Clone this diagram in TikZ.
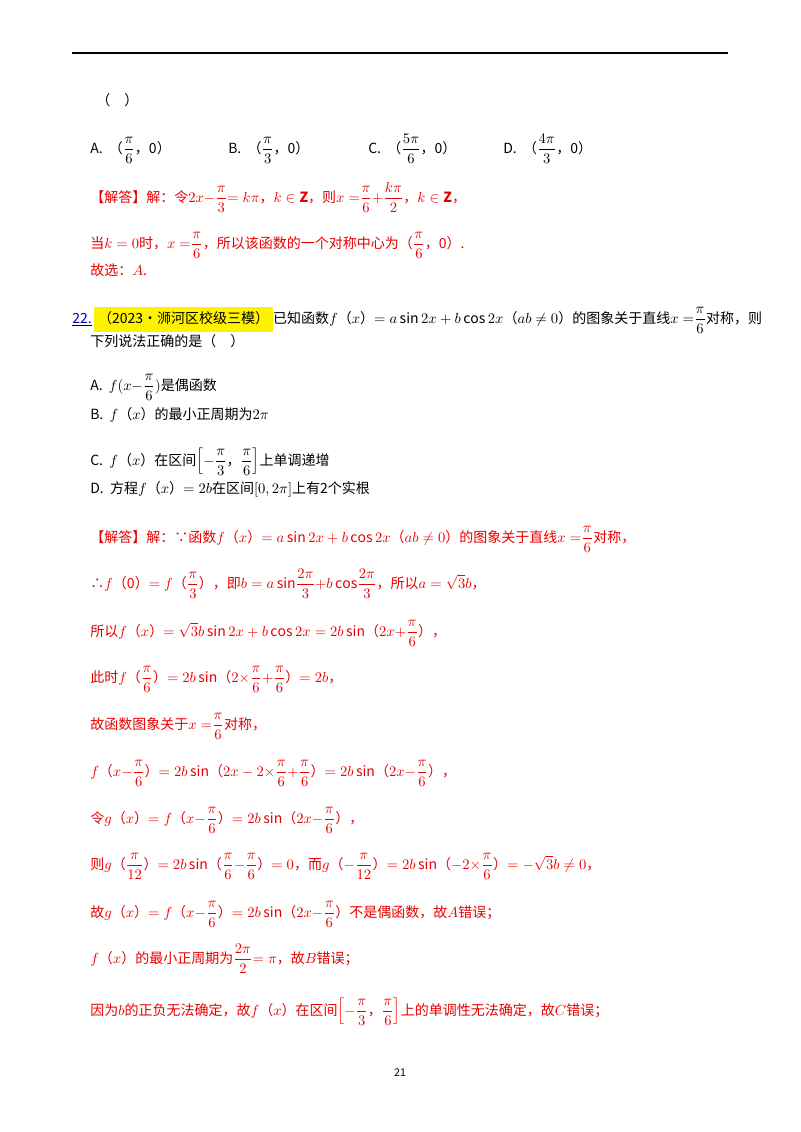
\documentclass[tikz,border=0pt]{standalone}
\usepackage{amsmath}
\usepackage{fontspec}
\setmainfont{Noto Sans CJK SC}
\newcommand\F[2]{$\dfrac{#1}{#2}$}
\definecolor{ansred}{RGB}{232,0,0}
\definecolor{qblue}{RGB}{0,0,200}
\begin{document}
\begin{tikzpicture}[x=0.75pt,y=-0.75pt,
  txt/.style={anchor=base west,inner sep=0pt,font=\fontsize{10.5}{12}\selectfont},
  ans/.style={txt,text=ansred}]
\useasboundingbox (0,0) rectangle (800,1132);
\draw[line width=1pt] (72,53) -- (728,53);
\node[txt] (l0) at (96,105) {（\quad）};
\node[txt] (oa) at (90,153) {A.\ \ （\F{\pi}{6}，0）};
\node[txt] (ob) at (228,153) {B.\ \ （\F{\pi}{3}，0）};
\node[txt] (oc) at (368,153) {C.\ \ （\F{5\pi}{6}，0）};
\node[txt] (od) at (503,153) {D.\ \ （\F{4\pi}{3}，0）};
\node[ans] (a1) at (90,202) {【解答】解：令$2x-$\F{\pi}{3}$=k\pi$，$k\in\mathbf{Z}$，则$x=$\F{\pi}{6}$+$\F{k\pi}{2}，$k\in\mathbf{Z}$，};
\node[ans] (a2) at (90,248) {当$k=0$时，$x=$\F{\pi}{6}，所以该函数的一个对称中心为（\F{\pi}{6}，0）.};
\node[ans] (a3) at (90,275) {故选：$A$.};
\node[txt] (q) at (72,323) {\underline{\textcolor{qblue}{22.}}\,\colorbox{yellow}{\strut（2023•浉河区校级三模）}已知函数$f$（$x$）$=a\sin2x+b\cos2x$（$ab\neq0$）的图象关于直线$x=$\F{\pi}{6}对称，则};
\node[txt] (q2) at (90,346) {下列说法正确的是（\quad）};
\node[txt] (qa) at (90,390) {A.\ \ $f(x-$\F{\pi}{6}$)$是偶函数};
\node[txt] (qb) at (90,419) {B.\ \ $f$（$x$）的最小正周期为$2\pi$};
\node[txt] (qc) at (90,465) {C.\ \ $f$（$x$）在区间$\Bigl[-$\F{\pi}{3}，\F{\pi}{6}$\Bigr]$上单调递增};
\node[txt] (qd) at (90,493) {D.\ \ 方程$f$（$x$）$=2b$在区间$[0,2\pi]$上有2个实根};
\node[ans] (b1) at (90,542) {【解答】解：∵函数$f$（$x$）$=a\sin2x+b\cos2x$（$ab\neq0$）的图象关于直线$x=$\F{\pi}{6}对称，};
\node[ans] (b2) at (90,588) {∴$f$（0）$=f$（\F{\pi}{3}），即$b=a\sin$\F{2\pi}{3}$+b\cos$\F{2\pi}{3}，所以$a=\sqrt3b$，};
\node[ans] (b3) at (90,636) {所以$f$（$x$）$=\sqrt3b\sin2x+b\cos2x=2b\sin$（$2x+$\F{\pi}{6}），};
\node[ans] (b4) at (90,682) {此时$f$（\F{\pi}{6}）$=2b\sin$（$2\times$\F{\pi}{6}$+$\F{\pi}{6}）$=2b$，};
\node[ans] (b5) at (90,729) {故函数图象关于$x=$\F{\pi}{6}对称，};
\node[ans] (b6) at (90,776) {$f$（$x-$\F{\pi}{6}）$=2b\sin$（$2x-2\times$\F{\pi}{6}$+$\F{\pi}{6}）$=2b\sin$（$2x-$\F{\pi}{6}），};
\node[ans] (b7) at (90,823) {令$g$（$x$）$=f$（$x-$\F{\pi}{6}）$=2b\sin$（$2x-$\F{\pi}{6}），};
\node[ans] (b8) at (90,869) {则$g$（\F{\pi}{12}）$=2b\sin$（\F{\pi}{6}$-$\F{\pi}{6}）$=0$，而$g$（$-$\F{\pi}{12}）$=2b\sin$（$-2\times$\F{\pi}{6}）$=-\sqrt3b\neq0$，};
\node[ans] (b9) at (90,917) {故$g$（$x$）$=f$（$x-$\F{\pi}{6}）$=2b\sin$（$2x-$\F{\pi}{6}）不是偶函数，故$A$错误；};
\node[ans] (b10) at (90,963) {$f$（$x$）的最小正周期为\F{2\pi}{2}$=\pi$，故$B$错误；};
\node[ans] (b11) at (90,1015) {因为$b$的正负无法确定，故$f$（$x$）在区间$\Bigl[-$\F{\pi}{3}，\F{\pi}{6}$\Bigr]$上的单调性无法确定，故$C$错误；};
\node[inner sep=0pt,font=\fontsize{8}{10}\selectfont] (pg) at (400,1073) {21};
\end{tikzpicture}
\end{document}
